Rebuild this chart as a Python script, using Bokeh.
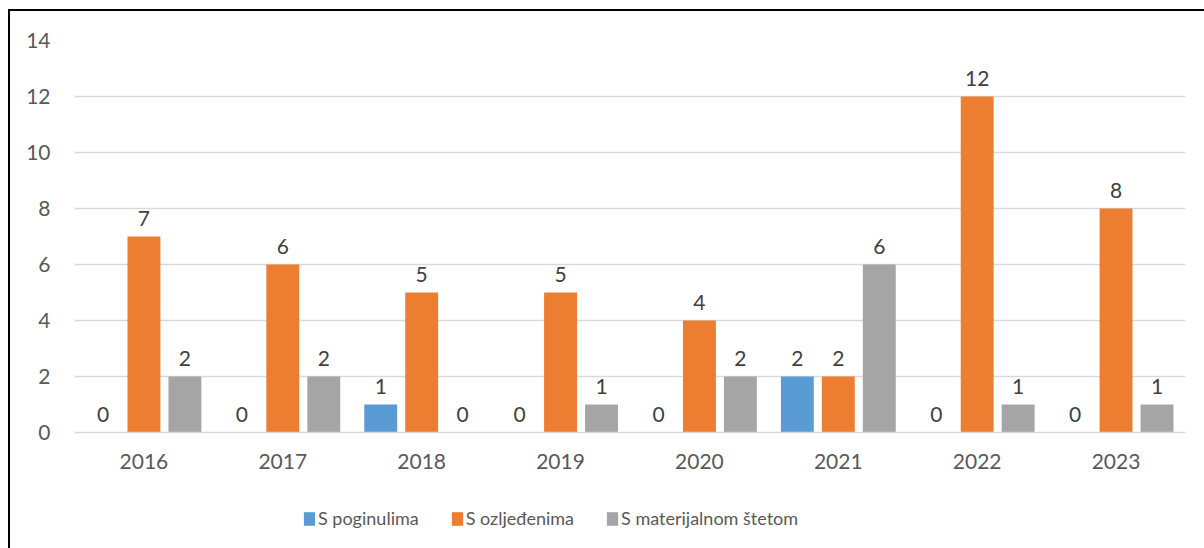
from bokeh.plotting import figure
from bokeh.layouts import column
from bokeh.models import FactorRange, Range1d, Legend, LegendItem, ColumnDataSource, FixedTicker
from bokeh.transform import dodge
from bokeh.embed import file_html
from bokeh.resources import INLINE
from bokeh.core.properties import value

years = ["2016", "2017", "2018", "2019", "2020", "2021", "2022", "2023"]
poginulima = [0, 0, 1, 0, 0, 2, 0, 0]
ozlijedenima = [7, 6, 5, 5, 4, 2, 12, 8]
materijalnom = [2, 2, 0, 1, 2, 6, 1, 1]
series_names = ["S poginulima", "S ozljeđenima", "S materijalnom štetom"]
colors = ["#5B9BD5", "#ED7D31", "#A5A5A5"]
y_ticks = [0, 2, 4, 6, 8, 10, 12, 14]

FONT = "Lato"
TXT = "#595959"

src = ColumnDataSource(dict(
    years=years,
    s0=poginulima, s1=ozlijedenima, s2=materijalnom,
    t0=[str(v) for v in poginulima],
    t1=[str(v) for v in ozlijedenima],
    t2=[str(v) for v in materijalnom],
))

W = 1194
H_MAIN = 470
H_LEG = 67

p = figure(width=W, height=H_MAIN, output_backend="svg", toolbar_location=None,
           x_range=FactorRange(*years, range_padding=0), y_range=Range1d(0, 14),
           min_border_left=64, min_border_right=19, min_border_top=29, min_border_bottom=H_MAIN - 421)
p.outline_line_color = None
p.background_fill_color = "white"
p.border_fill_color = "white"

offsets = [-0.295, 0.0, 0.295]
bar_w = 0.237
for i, (name, col) in enumerate(zip(series_names, colors)):
    p.vbar(x=dodge("years", offsets[i], range=p.x_range), top=f"s{i}", width=bar_w,
           source=src, fill_color=col, line_color=None)
    p.text(x=dodge("years", offsets[i], range=p.x_range), y=f"s{i}", text=f"t{i}", source=src,
           text_align="center", text_baseline="alphabetic", y_offset=-18,
           text_font=value(FONT), text_font_size="21px", text_color="#404040")

# axes
p.yaxis.ticker = FixedTicker(ticks=y_ticks)
p.yaxis.axis_line_color = None
p.yaxis.major_tick_line_color = None
p.yaxis.minor_tick_line_color = None
p.yaxis.major_tick_out = 0
p.yaxis.major_tick_in = 0
p.yaxis.major_label_standoff = 24
p.yaxis.major_label_text_font = FONT
p.yaxis.major_label_text_font_size = "21px"
p.yaxis.major_label_text_color = TXT

p.xaxis.axis_line_color = "#D9D9D9"
p.xaxis.axis_line_width = 1.5
p.xaxis.major_tick_line_color = None
p.xaxis.minor_tick_line_color = None
p.xaxis.major_tick_out = 0
p.xaxis.major_tick_in = 0
p.xaxis.major_label_standoff = 21
p.xaxis.major_label_text_font = FONT
p.xaxis.major_label_text_font_size = "21px"
p.xaxis.major_label_text_color = TXT

p.xgrid.grid_line_color = None
p.ygrid.grid_line_color = "#D9D9D9"
p.ygrid.grid_line_width = 1.5

# legend strip (separate figure so the legend is not clipped)
q = figure(width=W, height=H_LEG, output_backend="svg", toolbar_location=None,
           x_range=Range1d(0, 1), y_range=Range1d(0, 1),
           x_axis_location=None, y_axis_location=None,
           min_border_left=0, min_border_right=0, min_border_top=0, min_border_bottom=0)
q.outline_line_color = None
q.grid.visible = False
q.background_fill_color = "white"
q.border_fill_color = "white"
items = []
for name, col in zip(series_names, colors):
    # hidden placeholder renderer, only used for the legend swatch
    r = q.vbar(x=[0.5], top=[1], width=0.1, fill_color=col, line_color=None, visible=False)
    items.append(LegendItem(label=name, renderers=[r]))

legend = Legend(items=items, orientation="horizontal", location=(228, 19),
                padding=0, margin=0, spacing=31, label_standoff=2,
                glyph_width=14, glyph_height=17,
                label_text_font=FONT, label_text_font_size="18px", label_text_color=TXT,
                border_line_color=None, background_fill_alpha=0)
q.add_layout(legend, "center")

layout = column(p, q, spacing=0,
                styles={"margin-left": "8px", "margin-top": "9px",
                        "border-left": "2px solid black", "border-top": "2px solid black"})

open("out.html", "w").write(file_html(layout, INLINE))
